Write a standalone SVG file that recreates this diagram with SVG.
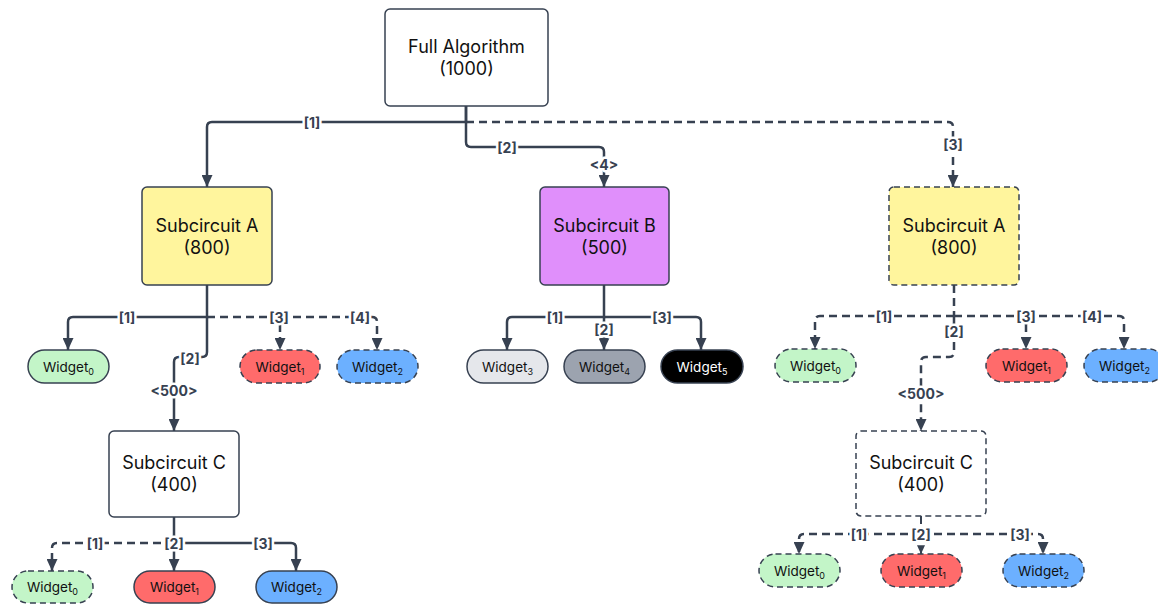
<svg xmlns="http://www.w3.org/2000/svg" width="1158" height="604" viewBox="0 0 1158 604">
  <defs>
    <marker id="arrow" viewBox="0 0 12 11" refX="12" refY="5.5" markerWidth="12" markerHeight="11" markerUnits="userSpaceOnUse" orient="auto">
      <path d="M0,0 L12,5.5 L0,11 Z" fill="#374151"/>
    </marker>
    <marker id="arrow-sm" viewBox="0 0 12 11" refX="12" refY="5.5" markerWidth="9" markerHeight="8" markerUnits="userSpaceOnUse" orient="auto">
      <path d="M0,0 L12,5.5 L0,11 Z" fill="#374151"/>
    </marker>
    <style>
      .box { stroke: #374151; stroke-width: 1.5; }
      .dash { stroke-dasharray: 6 4; }
      .title { font-family: Inter, "Liberation Sans", sans-serif; font-size: 18px; fill: #111; text-anchor: middle; }
      .wtxt { font-family: Inter, "Liberation Sans", sans-serif; font-size: 13.5px; fill: #111; text-anchor: middle; }
      .wtxt.inv { fill: #fff; }
      .edge { fill: none; stroke: #374151; stroke-width: 2.5; }
      .edge.d { stroke-dasharray: 8 5; }
      .edge.thin { stroke-width: 2; }
      .lbl { font-family: Inter, "Liberation Sans", sans-serif; font-size: 14px; font-weight: 700; fill: #374151; text-anchor: middle; dominant-baseline: central; stroke: #fff; stroke-width: 5; paint-order: stroke; stroke-linejoin: round; }
      .green { fill: #c3f5c8; }
      .red { fill: #ff6b6b; }
      .blue { fill: #6cb0ff; }
      .yellow { fill: #fff59d; }
      .violet { fill: #e08ffb; }
      .white { fill: #fff; }
    </style>
  </defs>

  <rect width="1158" height="604" fill="#fff"/>

  <!-- connectors -->
  <g id="connectors">
    <!-- Full Algorithm fan-out -->
    <path class="edge" d="M466,106 V122 H212 Q207,122 207,127 V187" marker-end="url(#arrow)"/>
    <path class="edge" d="M466,106 V142 Q466,147 471,147 H599 Q604,147 604,152 V187" marker-end="url(#arrow)"/>
    <path class="edge d" d="M466,122 H948 Q953,122 953,127 V187" marker-end="url(#arrow)"/>

    <!-- Subcircuit A (left) fan-out -->
    <path class="edge" d="M207,285 V317 H73 Q68,317 68,322 V350" marker-end="url(#arrow)"/>
    <path class="edge" d="M207,317 V352 Q207,357 202,357 H179 Q174,357 174,362 V431" marker-end="url(#arrow)"/>
    <path class="edge d" d="M207,317 H275 Q280,317 280,322 V350" marker-end="url(#arrow)"/>
    <path class="edge d" d="M280,317 H372 Q377,317 377,322 V350" marker-end="url(#arrow)"/>

    <!-- Subcircuit C (left) fan-out -->
    <path class="edge" d="M174,517 V543"/>
    <path class="edge d" d="M174,543 H57 Q52,543 52,548 V571" marker-end="url(#arrow)"/>
    <path class="edge" d="M174,543 V571" marker-end="url(#arrow)"/>
    <path class="edge" d="M174,543 H291 Q296,543 296,548 V571" marker-end="url(#arrow)"/>

    <!-- Subcircuit B fan-out -->
    <path class="edge" d="M604,285 V317 H512 Q507,317 507,322 V350" marker-end="url(#arrow)"/>
    <path class="edge" d="M604,317 V350" marker-end="url(#arrow)"/>
    <path class="edge" d="M604,317 H696 Q701,317 701,322 V350" marker-end="url(#arrow)"/>

    <!-- Subcircuit A (right) fan-out -->
    <path class="edge d" d="M954,285 V316"/>
    <path class="edge d" d="M954,316 H820 Q815,316 815,321 V349" marker-end="url(#arrow)"/>
    <path class="edge d" d="M954,316 V352 Q954,357 949,357 H926 Q921,357 921,362 V431" marker-end="url(#arrow)"/>
    <path class="edge d" d="M954,316 H1021 Q1026,316 1026,321 V349" marker-end="url(#arrow)"/>
    <path class="edge d" d="M1026,316 H1119 Q1124,316 1124,321 V349" marker-end="url(#arrow)"/>

    <!-- Subcircuit C (right) fan-out -->
    <path class="edge d thin" d="M921,516 V534"/>
    <path class="edge d" d="M921,534 H804 Q799,534 799,539 V554" marker-end="url(#arrow)"/>
    <path class="edge d thin" d="M921,534 V554" marker-end="url(#arrow-sm)"/>
    <path class="edge d" d="M921,534 H1038 Q1043,534 1043,539 V554" marker-end="url(#arrow)"/>

    <!-- edge labels -->
    <text class="lbl" x="312" y="122">[1]</text>
    <text class="lbl" x="507" y="147">[2]</text>
    <text class="lbl" x="604" y="164">&lt;4&gt;</text>
    <text class="lbl" x="953" y="144">[3]</text>

    <text class="lbl" x="127" y="317">[1]</text>
    <text class="lbl" x="190" y="358">[2]</text>
    <text class="lbl" x="174" y="390">&lt;500&gt;</text>
    <text class="lbl" x="279" y="317">[3]</text>
    <text class="lbl" x="360" y="317">[4]</text>

    <text class="lbl" x="95" y="543">[1]</text>
    <text class="lbl" x="174" y="543">[2]</text>
    <text class="lbl" x="263" y="543">[3]</text>

    <text class="lbl" x="555" y="317">[1]</text>
    <text class="lbl" x="604" y="329">[2]</text>
    <text class="lbl" x="662" y="317">[3]</text>

    <text class="lbl" x="884" y="316">[1]</text>
    <text class="lbl" x="954" y="331">[2]</text>
    <text class="lbl" x="921" y="393">&lt;500&gt;</text>
    <text class="lbl" x="1026" y="316">[3]</text>
    <text class="lbl" x="1092" y="316">[4]</text>

    <text class="lbl" x="859" y="534">[1]</text>
    <text class="lbl" x="921" y="534">[2]</text>
    <text class="lbl" x="1020" y="534">[3]</text>
  </g>

  <!-- top node -->
  <g id="full-algorithm">
    <rect class="box white" x="385" y="9" width="163" height="97" rx="5"/>
    <text class="title" x="466.5" y="53">Full Algorithm</text>
    <text class="title" x="466.5" y="75">(1000)</text>
  </g>

  <!-- second level -->
  <g id="subcircuit-a-left">
    <rect class="box yellow" x="142" y="187" width="130" height="98" rx="5"/>
    <text class="title" x="207" y="232">Subcircuit A</text>
    <text class="title" x="207" y="254">(800)</text>
  </g>
  <g id="subcircuit-b">
    <rect class="box violet" x="540" y="187" width="129" height="98" rx="5"/>
    <text class="title" x="604.5" y="232">Subcircuit B</text>
    <text class="title" x="604.5" y="254">(500)</text>
  </g>
  <g id="subcircuit-a-right">
    <rect class="box yellow dash" x="889" y="187" width="130" height="98" rx="5"/>
    <text class="title" x="954" y="232">Subcircuit A</text>
    <text class="title" x="954" y="254">(800)</text>
  </g>

  <!-- widgets under Subcircuit A (left) -->
  <g id="a-left-widget0">
    <rect class="box green" x="28" y="350" width="81" height="33" rx="16.5"/>
    <text class="wtxt" x="68.5" y="371.5">Widget<tspan font-size="9" dy="3">0</tspan></text>
  </g>
  <g id="a-left-widget1">
    <rect class="box red dash" x="240" y="350" width="80" height="33" rx="16.5"/>
    <text class="wtxt" x="280" y="371.5">Widget<tspan font-size="9" dy="3">1</tspan></text>
  </g>
  <g id="a-left-widget2">
    <rect class="box blue dash" x="337" y="350" width="81" height="33" rx="16.5"/>
    <text class="wtxt" x="377.5" y="371.5">Widget<tspan font-size="9" dy="3">2</tspan></text>
  </g>

  <!-- Subcircuit C (left) -->
  <g id="subcircuit-c-left">
    <rect class="box white" x="109" y="431" width="130" height="86" rx="5"/>
    <text class="title" x="174" y="469">Subcircuit C</text>
    <text class="title" x="174" y="491">(400)</text>
  </g>
  <g id="c-left-widget0">
    <rect class="box green dash" x="12" y="571" width="81" height="32" rx="16"/>
    <text class="wtxt" x="52.5" y="591.5">Widget<tspan font-size="9" dy="3">0</tspan></text>
  </g>
  <g id="c-left-widget1">
    <rect class="box red" x="134" y="571" width="81" height="32" rx="16"/>
    <text class="wtxt" x="174.5" y="591.5">Widget<tspan font-size="9" dy="3">1</tspan></text>
  </g>
  <g id="c-left-widget2">
    <rect class="box blue" x="256" y="571" width="81" height="32" rx="16"/>
    <text class="wtxt" x="296.5" y="591.5">Widget<tspan font-size="9" dy="3">2</tspan></text>
  </g>

  <!-- widgets under Subcircuit B -->
  <g id="b-widget3">
    <rect class="box" fill="#e5e7eb" x="467" y="350" width="81" height="33" rx="16.5"/>
    <text class="wtxt" x="507.5" y="371.5">Widget<tspan font-size="9" dy="3">3</tspan></text>
  </g>
  <g id="b-widget4">
    <rect class="box" fill="#9ca3af" x="564" y="350" width="81" height="33" rx="16.5"/>
    <text class="wtxt" x="604.5" y="371.5">Widget<tspan font-size="9" dy="3">4</tspan></text>
  </g>
  <g id="b-widget5">
    <rect class="box" fill="#000" x="661" y="350" width="82" height="33" rx="16.5"/>
    <text class="wtxt inv" x="702" y="371.5">Widget<tspan font-size="9" dy="3">5</tspan></text>
  </g>

  <!-- widgets under Subcircuit A (right) -->
  <g id="a-right-widget0">
    <rect class="box green dash" x="775" y="349" width="81" height="33" rx="16.5"/>
    <text class="wtxt" x="815.5" y="370.5">Widget<tspan font-size="9" dy="3">0</tspan></text>
  </g>
  <g id="a-right-widget1">
    <rect class="box red dash" x="986" y="349" width="81" height="33" rx="16.5"/>
    <text class="wtxt" x="1026.5" y="370.5">Widget<tspan font-size="9" dy="3">1</tspan></text>
  </g>
  <g id="a-right-widget2">
    <rect class="box blue dash" x="1084" y="349" width="81" height="33" rx="16.5"/>
    <text class="wtxt" x="1124.5" y="370.5">Widget<tspan font-size="9" dy="3">2</tspan></text>
  </g>

  <!-- Subcircuit C (right) -->
  <g id="subcircuit-c-right">
    <rect class="box white dash" x="856" y="431" width="130" height="85" rx="5"/>
    <text class="title" x="921" y="469">Subcircuit C</text>
    <text class="title" x="921" y="491">(400)</text>
  </g>
  <g id="c-right-widget0">
    <rect class="box green dash" x="759" y="554" width="81" height="33" rx="16.5"/>
    <text class="wtxt" x="799.5" y="575.5">Widget<tspan font-size="9" dy="3">0</tspan></text>
  </g>
  <g id="c-right-widget1">
    <rect class="box red dash" x="881" y="554" width="81" height="33" rx="16.5"/>
    <text class="wtxt" x="921.5" y="575.5">Widget<tspan font-size="9" dy="3">1</tspan></text>
  </g>
  <g id="c-right-widget2">
    <rect class="box blue dash" x="1003" y="554" width="81" height="33" rx="16.5"/>
    <text class="wtxt" x="1043.5" y="575.5">Widget<tspan font-size="9" dy="3">2</tspan></text>
  </g>
</svg>
